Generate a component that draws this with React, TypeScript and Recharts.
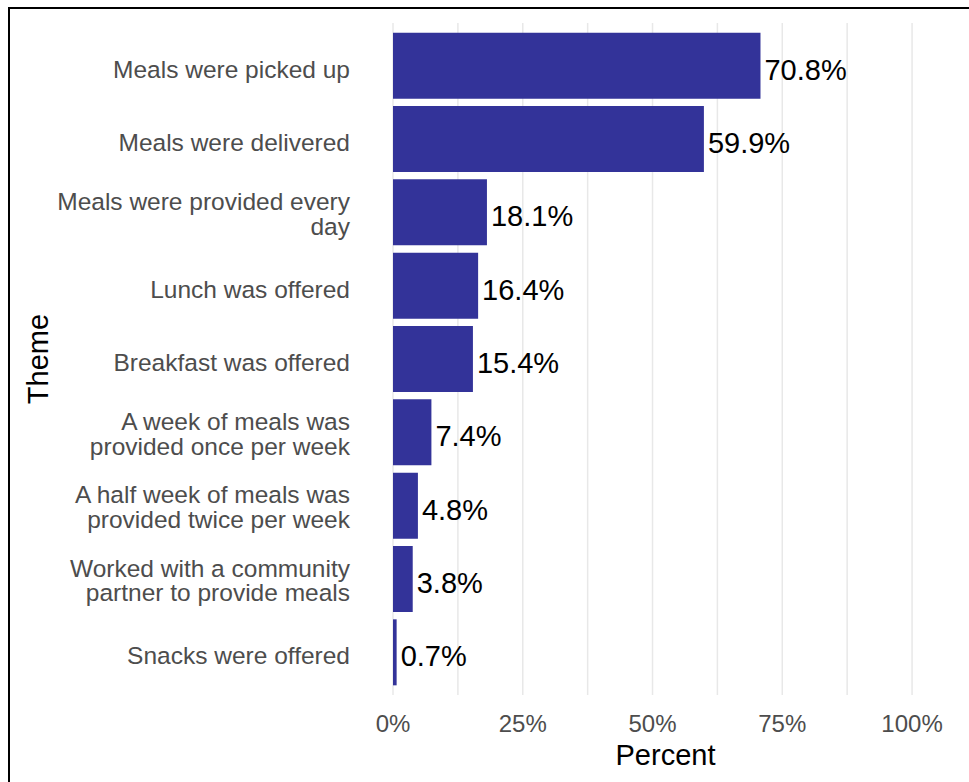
import { Bar, BarChart, CartesianGrid, Label, LabelList, XAxis, YAxis } from "recharts";

const themes = [
  "Meals were picked up",
  "Meals were delivered",
  "Meals were provided every\nday",
  "Lunch was offered",
  "Breakfast was offered",
  "A week of meals was\nprovided once per week",
  "A half week of meals was\nprovided twice per week",
  "Worked with a community\npartner to provide meals",
  "Snacks were offered",
];
const percents = [70.8, 59.9, 18.1, 16.4, 15.4, 7.4, 4.8, 3.8, 0.7];
const percentTicks = [0, 25, 50, 75, 100];
const gridValues = [0, 12.5, 25, 37.5, 50, 62.5, 75, 87.5, 100];

const data = themes.map((theme, i) => ({ theme, percent: percents[i] }));

const FONT = "'Liberation Sans', Arial, sans-serif";
const AXIS_GRAY = "#4d4d4d";
const BAR_COLOR = "#333399";
const LINE_H = 24.5;

// multi-line category labels, split on \n
function ThemeTick({ x, y, payload }: any) {
  const lines = String(payload.value).split("\n");
  const first = lines.length === 1 ? 12 : 10 - LINE_H / 2;
  return (
    <text x={x} y={y} textAnchor="end" fill={AXIS_GRAY} fontSize={24.5} fontFamily={FONT}>
      {lines.map((line, i) => (
        <tspan key={i} x={x} y={y + first + i * LINE_H}>
          {line}
        </tspan>
      ))}
    </text>
  );
}

function ValueLabel({ x, y, width, height, value }: any) {
  return (
    <text
      x={Number(x) + Number(width) + 4}
      y={Number(y) + Number(height) / 2 + 14}
      fontSize={29}
      fill="#000"
      fontFamily={FONT}
    >
      {`${Number(value).toFixed(1)}%`}
    </text>
  );
}

export default function App() {
  return (
    <div
      style={{
        position: "absolute",
        left: 0,
        top: 0,
        width: 969,
        height: 782,
        overflow: "hidden",
        background: "#fff",
      }}
    >
      <div
        style={{
          position: "absolute",
          left: 8,
          top: 7,
          right: -10,
          bottom: -10,
          borderTop: "2px solid #000",
          borderLeft: "2px solid #000",
        }}
      />
      <div style={{ position: "absolute", left: 0, top: 0 }}>
        <BarChart
          width={969}
          height={782}
          data={data}
          layout="vertical"
          margin={{ top: 23, right: 31, bottom: 0, left: 0 }}
          barCategoryGap="5%"
          style={{ fontFamily: FONT }}
        >
          <CartesianGrid
            horizontal={false}
            verticalValues={gridValues}
            stroke="#e8e8e8"
            strokeWidth={1.5}
          />
          <XAxis
            type="number"
            domain={[0, 105]}
            ticks={percentTicks}
            tickFormatter={(v: number) => `${v}%`}
            axisLine={false}
            tickLine={false}
            tickSize={0}
            tickMargin={20}
            height={87}
            tick={{ fill: AXIS_GRAY, fontSize: 24, fontFamily: FONT }}
          >
            <Label value="Percent" position="insideBottom" offset={17} fill="#000" fontSize={29} fontFamily={FONT} />
          </XAxis>
          <YAxis
            type="category"
            dataKey="theme"
            width={393}
            axisLine={false}
            tickLine={false}
            tickSize={0}
            tickMargin={43}
            padding={{ top: 6, bottom: 6 }}
            interval={0}
            tick={<ThemeTick />}
          >
            <Label
              value="Theme"
              angle={-90}
              position="insideLeft"
              offset={38}
              fill="#000"
              fontSize={29}
              fontFamily={FONT}
              style={{ textAnchor: "middle" }}
            />
          </YAxis>
          <Bar dataKey="percent" fill={BAR_COLOR} isAnimationActive={false}>
            <LabelList dataKey="percent" content={<ValueLabel />} />
          </Bar>
        </BarChart>
      </div>
    </div>
  );
}
